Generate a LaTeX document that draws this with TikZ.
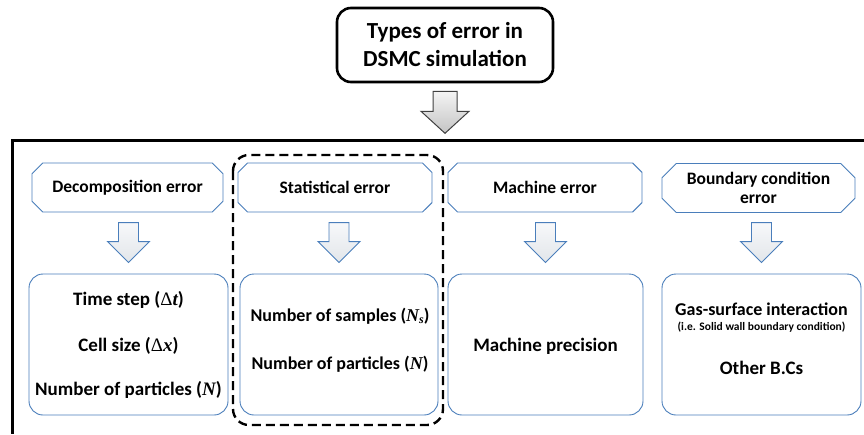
\documentclass[tikz,border=0pt]{standalone}
\usepackage{fontspec}
\setmainfont{Carlito}
\newfontfamily\varfont{Liberation Serif}
\usetikzlibrary{shapes.misc,calc}
\definecolor{edgeblue}{HTML}{4A7EBB}
\definecolor{arrowlight}{HTML}{F7F8FA}
\definecolor{arrowdark}{HTML}{E2E6EA}
\definecolor{bigtop}{HTML}{F4F4F4}
\definecolor{bigbottom}{HTML}{C4C4C4}
% italic serif variables and an upright Delta
\newcommand{\mvar}[1]{{\varfont\itshape #1}}
\newcommand{\mdelta}{{\varfont\mdseries Δ}}
\newcommand{\msub}[1]{\raisebox{-0.3ex}{\fontsize{12}{12}\selectfont\varfont\itshape #1}}
\tikzset{
  pics/smalldown/.style={code={
    \draw[edgeblue, line width=0.9pt, line join=miter, top color=arrowlight, bottom color=arrowdark]
      (-10,-51) -- (-10,-32) -- (-21,-32) -- (0,-11) -- (21,-32) -- (10,-32) -- (10,-51) -- cycle;
  }},
  pics/bigdown/.style={code={
    \draw[black!75, line width=1pt, line join=miter, top color=bigtop, bottom color=bigbottom]
      (-12,8) -- (-12,28) -- (-24,28) -- (0,50) -- (24,28) -- (12,28) -- (12,8) -- cycle;
  }}
}
\begin{document}
\begin{tikzpicture}[x=1pt,y=-1pt,
  titlebox/.style={draw, line width=2.6pt, rounded corners=14pt, minimum width=216pt,
    minimum height=74pt, align=center, inner sep=0pt,
    font=\fontsize{23}{28}\selectfont\bfseries},
  header/.style={chamfered rectangle, chamfered rectangle xsep=11pt, draw=edgeblue,
    line width=0.9pt, fill=white, minimum height=49pt, inner sep=0pt, align=center,
    font=\fontsize{17.5}{19.5}\selectfont\bfseries},
  itembox/.style={draw=edgeblue, line width=0.9pt, rounded corners=14pt, fill=white,
    minimum height=141pt, inner sep=0pt},
  itemtext/.style={inner sep=0pt, font=\fontsize{19}{22}\selectfont\bfseries},
  itemtextsm/.style={inner sep=0pt, font=\fontsize{18}{21}\selectfont\bfseries},
  smalltext/.style={inner sep=0pt, font=\fontsize{11.5}{13}\selectfont\bfseries},
  groupline/.style={draw, line width=2.4pt, dash pattern=on 9pt off 5pt, rounded corners=16pt},
  frameline/.style={line width=3pt}
]
\useasboundingbox (0,0) rectangle (864,434);

% title and its arrow
\node[titlebox] (title) at (445,45) {Types of error in\\DSMC simulation};
\pic at (title.south) {bigdown};

% outer frame (top and left edges)
\coordinate (frameTR) at (864,140);
\coordinate (frameBL) at (12,434);
\draw[frameline] (frameTR) -- (frameTR -| frameBL) -- (frameBL);

% dashed grouping around the statistical column
\draw[groupline] (233,155) rectangle (443,425);

% category headers
\node[header, minimum width=191pt] (h1) at (127.5,187.5) {Decomposition error};
\node[header, minimum width=194pt] (h2) at (335,187.5) {Statistical error};
\node[header, minimum width=194pt] (h3) at (545,187.5) {Machine error};
\node[header, minimum width=193pt] (h4) at (758.5,188) {Boundary condition\\error};

% detail boxes
\node[itembox, minimum width=199pt] (b1) at (128.5,344.5) {};
\node[itembox, minimum width=198pt] (b2) at (339,344.5) {};
\node[itembox, minimum width=195pt] (b3) at (545.5,344.5) {};
\node[itembox, minimum width=199pt] (b4) at (761.5,344.5) {};

% arrows from headers to boxes
\pic at (b1.north) {smalldown};
\pic at (b2.north) {smalldown};
\pic at (b3.north) {smalldown};
\pic at (b4.north) {smalldown};

% box contents
\node[itemtext] (d1) at (128.5,300) {Time step (\mdelta\mvar{t})};
\node[itemtext] (d2) at (128.5,346) {Cell size (\mdelta\mvar{x})};
\node[itemtext] (d3) at (128.5,390) {Number of particles (\mvar{N})};

\node[itemtextsm] (s1) at (340,316) {Number of samples (\mvar{N}\msub{s})};
\node[itemtextsm] (s2) at (340,364) {Number of particles (\mvar{N})};

\node[itemtext] (m1) at (545.5,346) {Machine precision};

\node[itemtextsm] (g1) at (761.5,309) {Gas-surface interaction};
\node[smalltext] (g2) at (761.5,327) {(i.e. Solid wall boundary condition)};
\node[itemtext] (g3) at (761.5,368) {Other B.Cs};
\end{tikzpicture}
\end{document}
